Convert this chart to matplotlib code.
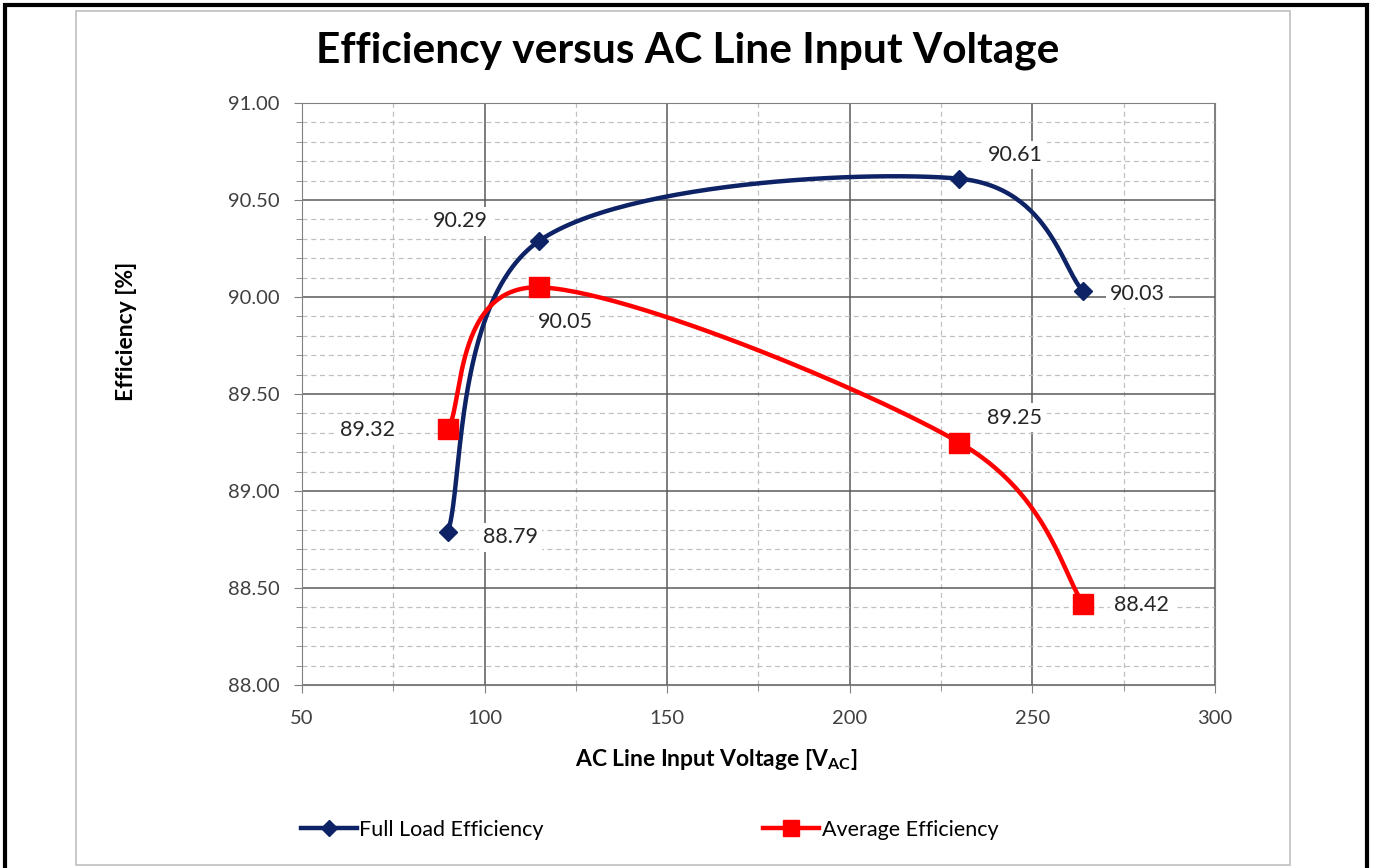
import numpy as np
import matplotlib.pyplot as plt
from matplotlib.patches import Rectangle
from matplotlib.ticker import MultipleLocator, FormatStrFormatter

plt.rcParams['font.family'] = ['Lato', 'DejaVu Sans']

voltage = [90, 115, 230, 264]
full_load = [88.79, 90.29, 90.61, 90.03]
average = [89.32, 90.05, 89.25, 88.42]
full_offsets = [(45, -4), (-57, 14), (40, 17), (39, -2)]
avg_offsets = [(-58, -1), (19, -25), (40, 18), (42, -1)]

navy = '#0d2366'
red = '#ff0000'


def smooth(xs, ys, sx, sy, n=60):
    # Excel-like smoothed line: Catmull-Rom as cubic Bezier, in screen-ish space
    p = np.column_stack([np.array(xs) * sx, np.array(ys) * sy])
    p = np.vstack([p[0], p, p[-1]])
    out = []
    t = np.linspace(0, 1, n)[:, None]
    for i in range(1, len(p) - 2):
        p0, p1, p2, p3 = p[i - 1], p[i], p[i + 1], p[i + 2]
        c1 = p1 + (p2 - p0) / 6
        c2 = p2 - (p3 - p1) / 6
        seg = ((1 - t) ** 3) * p1 + 3 * ((1 - t) ** 2) * t * c1 + 3 * (1 - t) * t ** 2 * c2 + t ** 3 * p2
        out.append(seg)
    out = np.vstack(out)
    return out[:, 0] / sx, out[:, 1] / sy


fig = plt.figure(figsize=(13.75, 8.68), dpi=100)
ax = fig.add_axes([0.2196, 0.2108, 0.664, 0.6705])

xmin, xmax, ymin, ymax = 50, 300, 88, 91
sx = 913 / (xmax - xmin)
sy = 582 / (ymax - ymin)

fx, fy = smooth(voltage, full_load, sx, sy)
axx, ayy = smooth(voltage, average, sx, sy)
ax.plot(fx, fy, color=navy, lw=3.2, zorder=3)
ax.plot(voltage, full_load, 'D', color=navy, ms=9, zorder=4)
ax.plot(axx, ayy, color=red, lw=3.2, zorder=3)
ax.plot(voltage, average, 's', color=red, ms=14, zorder=4)

for x, y, off in zip(voltage, full_load, full_offsets):
    ax.annotate(f'{y:.2f}', (x, y), xytext=off, textcoords='offset points', ha='center', va='center',
                fontsize=15.5, color='#262626', bbox=dict(boxstyle='square,pad=0.2', fc='white', ec='none'), zorder=5)
for x, y, off in zip(voltage, average, avg_offsets):
    ax.annotate(f'{y:.2f}', (x, y), xytext=off, textcoords='offset points', ha='center', va='center',
                fontsize=15.5, color='#262626', bbox=dict(boxstyle='square,pad=0.2', fc='white', ec='none'), zorder=5)

ax.set_xlim(xmin, xmax)
ax.set_ylim(ymin, ymax)
ax.xaxis.set_major_locator(MultipleLocator(50))
ax.xaxis.set_minor_locator(MultipleLocator(25))
ax.yaxis.set_major_locator(MultipleLocator(0.5))
ax.yaxis.set_minor_locator(MultipleLocator(0.1))
ax.yaxis.set_major_formatter(FormatStrFormatter('%.2f'))
ax.grid(which='major', color='#5a5a5a', lw=1.1, ls='-', zorder=1)
ax.grid(which='minor', color='#c0c0c0', lw=0.9, ls=(0, (4, 3)), zorder=0)
ax.tick_params(which='both', direction='out', colors='#808080', labelcolor='#404040', labelsize=14.5)
ax.tick_params(axis='x', which='major', length=6, pad=12)
ax.tick_params(axis='y', which='major', length=6, pad=10)
ax.tick_params(which='minor', length=4)
for s in ax.spines.values():
    s.set_color('#808080')
ax.set_axisbelow(True)

ax.set_xlabel(r'AC Line Input Voltage [V$_{\mathregular{AC}}$]', fontsize=16.5, fontweight='bold')
ax.xaxis.set_label_coords((716 - 302) / 913, -(747 - 685) / 582)
ax.set_ylabel('Efficiency [%]', fontsize=16.5, fontweight='bold')
ax.yaxis.set_label_coords((137 - 302) / 913, (685 - 331) / 582)
fig.text(0.5, 0.942, 'Efficiency versus AC Line Input Voltage', ha='center', va='center',
         fontsize=30.5, fontweight='bold', color='black')

h1, = ax.plot([], [], color=navy, lw=3.2, marker='D', ms=8)
h2, = ax.plot([], [], color=red, lw=3.2, marker='s', ms=12)
fig.legend([h1, h2], ['Full Load Efficiency', 'Average Efficiency'], loc='center left',
           bbox_to_anchor=(0.205, 0.044), ncol=2, frameon=False, fontsize=15.5,
           handlelength=2.6, handletextpad=0.1, columnspacing=10.2)

fig.patches.append(Rectangle((76 / 1375, 0.003), (1290 - 76) / 1375, (857 - 3) / 868,
                             transform=fig.transFigure, fill=False, ec='#bfbfbf', lw=1.2))
fig.patches.append(Rectangle((5 / 1375, -0.01), (1367 - 5) / 1375, (862 + 10) / 868,
                             transform=fig.transFigure, fill=False, ec='black', lw=3))

fig.savefig('out.png', dpi=100)
